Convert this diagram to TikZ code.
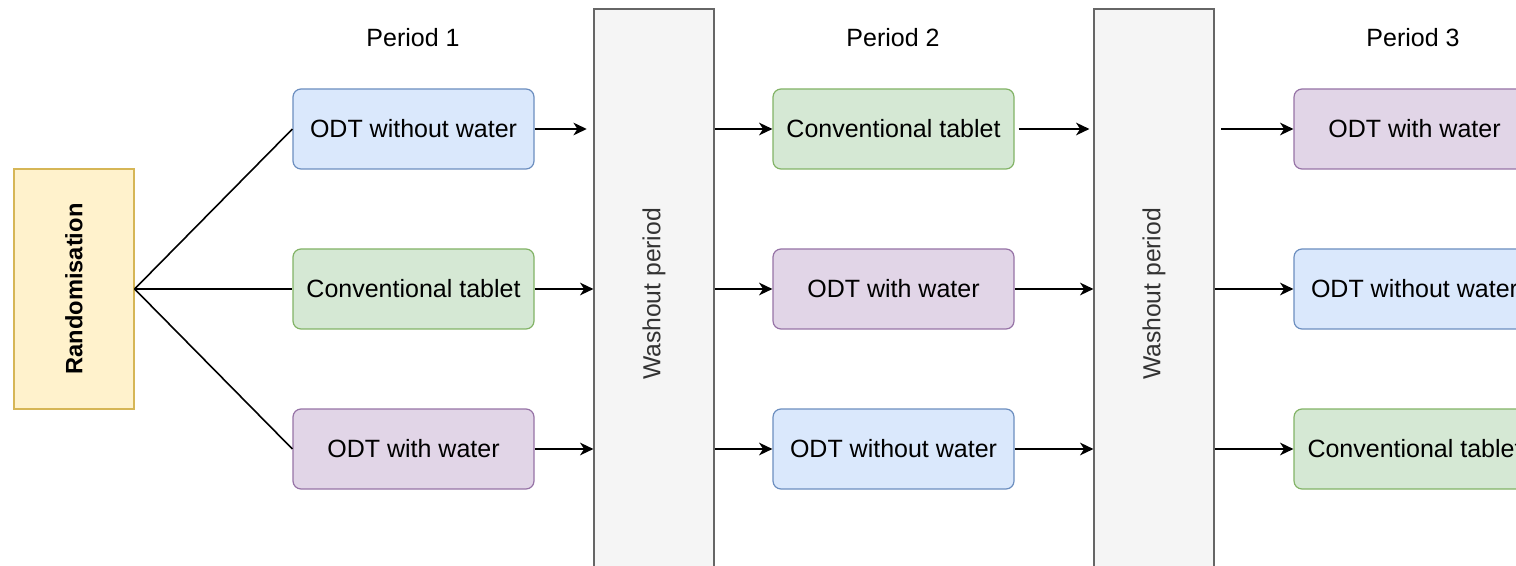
\documentclass[tikz,border=0pt]{standalone}
\usepackage{fontspec}
\setmainfont{Liberation Sans}
\usetikzlibrary{arrows.meta}
\definecolor{bluefill}{HTML}{DAE8FC}
\definecolor{blueline}{HTML}{6C8EBF}
\definecolor{greenfill}{HTML}{D5E8D4}
\definecolor{greenline}{HTML}{82B366}
\definecolor{purplefill}{HTML}{E1D5E7}
\definecolor{purpleline}{HTML}{9673A6}
\definecolor{yellowfill}{HTML}{FFF2CC}
\definecolor{yellowline}{HTML}{D6B656}
\definecolor{grayfill}{HTML}{F5F5F5}
\definecolor{grayline}{HTML}{666666}
\definecolor{graytext}{HTML}{333333}
\tikzset{
  drug/.style={rectangle, draw, rounded corners=6pt, line width=0.9pt, minimum width=180.75pt, minimum height=60pt, inner sep=1pt, font=\fontsize{18.75}{22}\selectfont},
  without/.style={drug, fill=bluefill, draw=blueline},
  conventional/.style={drug, fill=greenfill, draw=greenline},
  withwater/.style={drug, fill=purplefill, draw=purpleline},
  washout/.style={rectangle, draw=grayline, fill=grayfill, line width=0.9pt, minimum width=90pt, minimum height=427.5pt, inner sep=0pt, text=graytext, font=\fontsize{18.5}{21}\selectfont},
  randbox/.style={rectangle, draw=yellowline, fill=yellowfill, line width=0.9pt, minimum width=90pt, minimum height=180pt, inner sep=0pt, font=\fontsize{17.75}{21}\selectfont\bfseries},
  period/.style={font=\fontsize{18.75}{22}\selectfont},
  flow/.style={line width=1.2pt, -{Stealth[length=10pt, width=9.5pt, inset=3pt]}},
  branch/.style={line width=1.2pt}
}
\begin{document}
\begin{tikzpicture}[x=0.75pt, y=-0.75pt]
  \useasboundingbox (0,0) rectangle (1516,566);
  \clip (0,0) rectangle (1516,566);

  \node[randbox] (rand) at (74,289) {\rotatebox{90}{Randomisation}};

  \node[period] (per1) at (413,38) {Period 1};
  \node[without] (p1a) at (413.5,129) {ODT without water};
  \node[conventional] (p1b) at (413.5,289) {Conventional tablet};
  \node[withwater] (p1c) at (413.5,449) {ODT with water};

  \node[washout] (wash1) at (654,294) {\rotatebox{90}{Washout period}};

  \node[period] (per2) at (893,38) {Period 2};
  \node[conventional] (p2a) at (893.5,129) {Conventional tablet};
  \node[withwater] (p2b) at (893.5,289) {ODT with water};
  \node[without] (p2c) at (893.5,449) {ODT without water};

  \node[washout] (wash2) at (1154,294) {\rotatebox{90}{Washout period}};

  \node[period] (per3) at (1413,38) {Period 3};
  \node[withwater] (p3a) at (1414.5,129) {ODT with water};
  \node[without] (p3b) at (1414.5,289) {ODT without water};
  \node[conventional] (p3c) at (1414.5,449) {Conventional tablet};

  % randomisation to period 1
  \draw[branch] (rand.east) -- (p1a.west);
  \draw[branch] (rand.east) -- (p1b.west);
  \draw[branch] (rand.east) -- (p1c.west);

  % period 1 to washout
  \draw[flow, shorten >=5pt] (p1a.east) -- (wash1.west |- p1a.east);
  \draw[flow] (p1b.east) -- (wash1.west |- p1b.east);
  \draw[flow] (p1c.east) -- (wash1.west |- p1c.east);

  % washout to period 2
  \draw[flow] (wash1.east |- p2a.west) -- (p2a.west);
  \draw[flow] (wash1.east |- p2b.west) -- (p2b.west);
  \draw[flow] (wash1.east |- p2c.west) -- (p2c.west);

  % period 2 to washout
  \draw[flow, shorten <=3pt, shorten >=3pt] (p2a.east) -- (wash2.west |- p2a.east);
  \draw[flow] (p2b.east) -- (wash2.west |- p2b.east);
  \draw[flow] (p2c.east) -- (wash2.west |- p2c.east);

  % washout to period 3
  \draw[flow, shorten <=5pt] (wash2.east |- p3a.west) -- (p3a.west);
  \draw[flow] (wash2.east |- p3b.west) -- (p3b.west);
  \draw[flow] (wash2.east |- p3c.west) -- (p3c.west);
\end{tikzpicture}
\end{document}
